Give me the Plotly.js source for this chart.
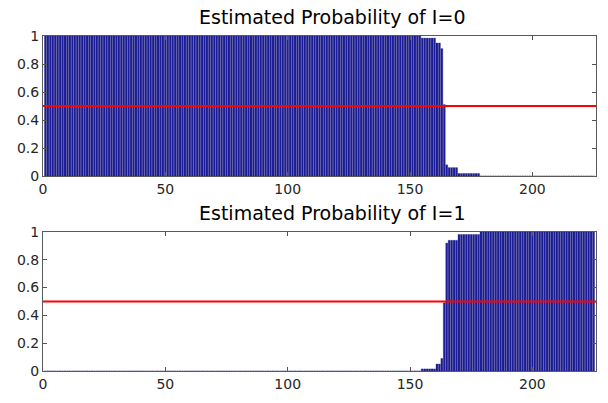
<!DOCTYPE html>
<html>
<head>
<meta charset="utf-8">
<script src="https://cdn.plot.ly/plotly-3.0.1.min.js"></script>
<style>
  html, body { margin: 0; padding: 0; background: #ffffff; }
  #chart { width: 608px; height: 403px; }
</style>
</head>
<body>
<div id="chart"></div>
<script>
// Sample index 1..225
const sampleIndex = [];
for (let i = 1; i <= 225; i++) sampleIndex.push(i);

// Estimated probability that I = 0, per sample
const probI0 = [
  1,1,1,1,1,1,1,1,1,1, 1,1,1,1,1,1,1,1,1,1, 1,1,1,1,1,1,1,1,1,1,
  1,1,1,1,1,1,1,1,1,1, 1,1,1,1,1,1,1,1,1,1, 1,1,1,1,1,1,1,1,1,1,
  1,1,1,1,1,1,1,1,1,1, 1,1,1,1,1,1,1,1,1,1, 1,1,1,1,1,1,1,1,1,1,
  1,1,1,1,1,1,1,1,1,1, 1,1,1,1,1,1,1,1,1,1, 1,1,1,1,1,1,1,1,1,1,
  1,1,1,1,1,1,1,1,1,1, 1,1,1,1,1,1,1,1,1,1, 1,1,1,1,1,1,1,1,1,1,
  1,1,1,1, 0.985,0.985,0.985,0.985,0.985,0.985,
  0.95,0.95, 0.91, 0.51, 0.08, 0.06,0.06,0.06,0.06,
  0.018,0.018,0.018,0.018,0.018,0.018,0.018,0.018,0.018,
  0,0,0,0,0,0,0,0,0,0, 0,0,0,0,0,0,0,0,0,0, 0,0,0,0,0,0,0,0,0,0,
  0,0,0,0,0,0,0,0,0,0, 0,0,0,0,0,0,0
];

// Estimated probability that I = 1, per sample
const probI1 = [
  0,0,0,0,0,0,0,0,0,0, 0,0,0,0,0,0,0,0,0,0, 0,0,0,0,0,0,0,0,0,0,
  0,0,0,0,0,0,0,0,0,0, 0,0,0,0,0,0,0,0,0,0, 0,0,0,0,0,0,0,0,0,0,
  0,0,0,0,0,0,0,0,0,0, 0,0,0,0,0,0,0,0,0,0, 0,0,0,0,0,0,0,0,0,0,
  0,0,0,0,0,0,0,0,0,0, 0,0,0,0,0,0,0,0,0,0, 0,0,0,0,0,0,0,0,0,0,
  0,0,0,0,0,0,0,0,0,0, 0,0,0,0,0,0,0,0,0,0, 0,0,0,0,0,0,0,0,0,0,
  0,0,0,0, 0.015,0.015,0.015,0.015,0.015,0.015,
  0.05,0.05, 0.09, 0.49, 0.92, 0.94,0.94,0.94,0.94,
  0.982,0.982,0.982,0.982,0.982,0.982,0.982,0.982,0.982,
  1,1,1,1,1,1,1,1,1,1, 1,1,1,1,1,1,1,1,1,1, 1,1,1,1,1,1,1,1,1,1,
  1,1,1,1,1,1,1,1,1,1, 1,1,1,1,1,1,1
];

const panelTitles = ['Estimated Probability of I=0', 'Estimated Probability of I=1'];
const threshold = 0.5;
const xTicks = [0, 50, 100, 150, 200];
const yTicks = [0, 0.2, 0.4, 0.6, 0.8, 1];

const barStyle = {
  color: '#1e1e9a',
  line: { color: '#101070', width: 0.3 }
};

const traces = [
  { type: 'bar', x: sampleIndex, y: probI0, xaxis: 'x', yaxis: 'y',
    marker: barStyle, width: 0.8, hoverinfo: 'x+y' },
  { type: 'bar', x: sampleIndex, y: probI1, xaxis: 'x2', yaxis: 'y2',
    marker: barStyle, width: 0.8, hoverinfo: 'x+y' }
];

const textFamily = 'DejaVu Sans, Arial, sans-serif';
const tickFont = { family: textFamily, size: 14, color: '#262626' };

function xAxis(anchor) {
  return {
    anchor: anchor, domain: [0, 1], range: [0, 226],
    tickvals: xTicks, ticktext: xTicks.map(String),
    ticks: 'inside', ticklen: 4, tickcolor: '#555555',
    showline: true, linecolor: '#5a5a5a', linewidth: 1, mirror: 'ticks',
    showgrid: false, zeroline: false, tickfont: tickFont, fixedrange: true
  };
}
function yAxis(anchor, domain) {
  return {
    anchor: anchor, domain: domain, range: [0, 1],
    tickvals: yTicks, ticktext: yTicks.map(String),
    ticks: 'inside', ticklen: 4, tickcolor: '#555555',
    showline: true, linecolor: '#5a5a5a', linewidth: 1, mirror: 'ticks',
    showgrid: false, zeroline: false, tickfont: tickFont, fixedrange: true
  };
}

const titleFont = { family: textFamily, size: 19, color: '#000000' };

const layout = {
  width: 608, height: 403,
  margin: { l: 43, r: 12, t: 36, b: 32 },
  paper_bgcolor: '#ffffff', plot_bgcolor: '#ffffff',
  showlegend: false, bargap: 0.2,
  xaxis: xAxis('y'),
  yaxis: yAxis('x', [0.582, 1]),
  xaxis2: xAxis('y2'),
  yaxis2: yAxis('x2', [0, 0.415]),
  shapes: [
    { type: 'line', xref: 'x domain', yref: 'y', x0: 0, x1: 1, y0: threshold, y1: threshold,
      line: { color: '#ff0000', width: 2 }, layer: 'above' },
    { type: 'line', xref: 'x2 domain', yref: 'y2', x0: 0, x1: 1, y0: threshold, y1: threshold,
      line: { color: '#ff0000', width: 2 }, layer: 'above' }
  ],
  annotations: [
    { text: panelTitles[0], xref: 'paper', yref: 'paper', x: 0.522, y: 1, yshift: 19,
      xanchor: 'center', yanchor: 'middle', showarrow: false, font: titleFont },
    { text: panelTitles[1], xref: 'paper', yref: 'paper', x: 0.522, y: 0.415, yshift: 19,
      xanchor: 'center', yanchor: 'middle', showarrow: false, font: titleFont }
  ]
};

Plotly.newPlot('chart', traces, layout, { displayModeBar: false, staticPlot: true });
</script>
</body>
</html>
